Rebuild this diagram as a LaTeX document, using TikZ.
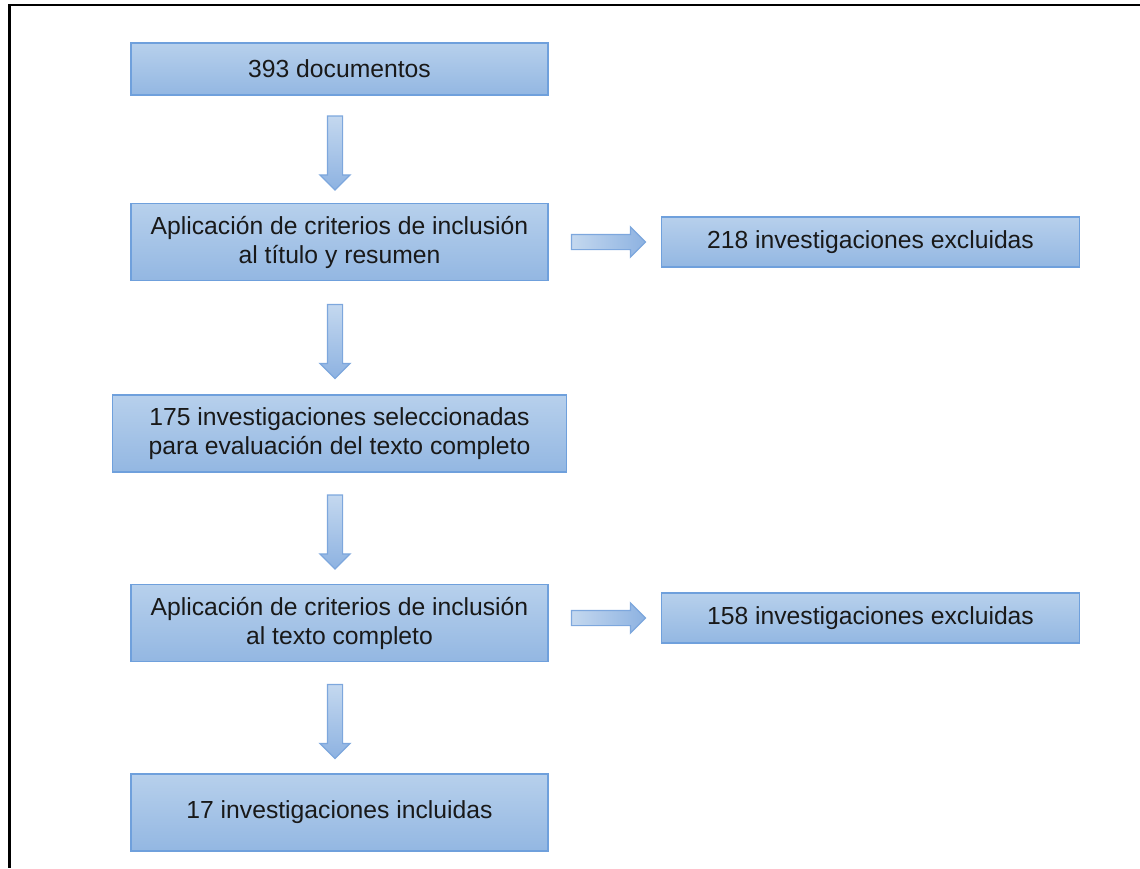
\documentclass[tikz,border=0pt]{standalone}
\usepackage{fontspec}
\setmainfont{Liberation Sans}
\usepackage{tikz}
\usetikzlibrary{positioning, shapes.arrows}

\definecolor{boxtop}{HTML}{B7D0EC}
\definecolor{boxbot}{HTML}{93B7E2}
\definecolor{boxline}{HTML}{6FA0DC}
\definecolor{arrlight}{HTML}{C4D8EF}
\definecolor{arrdark}{HTML}{8DB2E1}
\definecolor{arrline}{HTML}{7DA7DD}

\begin{document}
\begin{tikzpicture}[
	  x=1pt, y=-1pt,
	  font=\fontsize{24.7}{29}\selectfont,
	  node distance=110pt and 112pt,
	  box/.style={draw=boxline, line width=1.5pt, top color=boxtop, bottom color=boxbot, align=center, text=black!90, inner sep=4pt, minimum width=417pt, minimum height=77pt},
	  onebox/.style={box, minimum height=52pt},
	  widebox/.style={box, minimum width=454pt},
	  exclbox/.style={box, minimum width=418pt, minimum height=50pt},
	  arrbase/.style={single arrow, draw=arrline, line width=1.2pt, inner sep=7pt, minimum height=74pt, minimum width=29pt, single arrow head extend=7.5pt},
	  downarr/.style={arrbase, shape border rotate=270, xshift=-4.5pt, top color=arrlight, bottom color=arrdark},
	  rightarr/.style={arrbase, left color=arrlight, right color=arrdark},
	  frame/.style={draw=black, line width=2.5pt}
	]

	\useasboundingbox (0,0) rectangle (1140,868);
	\draw[frame] (1140,5) -- (9.5,5) -- (9.5,868);

	\node[onebox] (docs) at (339.5,69) {393 documentos};
	\node[box, below=107pt of docs] (crit1) {Aplicación de criterios de inclusión\\al título y resumen};
	\node[widebox, below=113pt of crit1] (sel) {175 investigaciones seleccionadas\\para evaluación del texto completo};
	\node[box, below=111pt of sel] (crit2) {Aplicación de criterios de inclusión\\al texto completo};
	\node[box, below=111pt of crit2] (incl) {17 investigaciones incluidas};

	\node[exclbox, right=of crit1] (excl1) {218 investigaciones excluidas};
	\node[exclbox, right=of crit2, yshift=5pt] (excl2) {158 investigaciones excluidas};

	\path (docs.south) -- node[downarr] {} (crit1.north);
	\path (crit1.south) -- node[downarr] {} (sel.north);
	\path (sel.south) -- node[downarr] {} (crit2.north);
	\path (crit2.south) -- node[downarr] {} (incl.north);

	\path (crit1.east) -- node[rightarr] {} (excl1.west);
	\path (crit2.east |- excl2.west) -- node[rightarr] {} (excl2.west);

	\end{tikzpicture}
\end{document}
